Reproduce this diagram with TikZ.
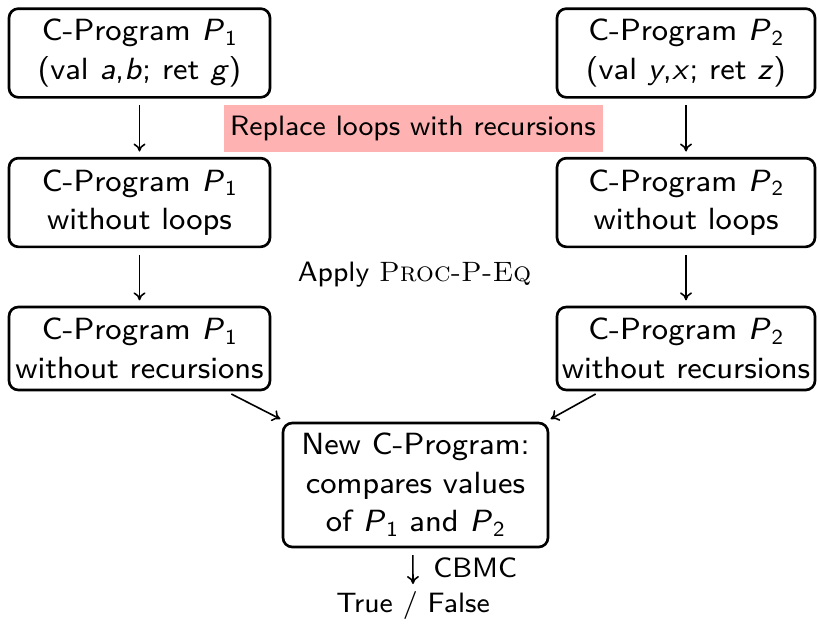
\documentclass[tikz,border=0pt]{standalone}
\usepackage{fontspec}
\setsansfont{lmsans8-regular.otf}[ItalicFont=lmsans8-oblique.otf]
\usetikzlibrary{arrows.meta}
\newcommand\mi[1]{\textit{#1}}
\newcommand\Pn[1]{\textit{P}\kern0.5pt\textsubscript{#1}}
\begin{document}
\begin{tikzpicture}[x=0.75pt,y=-0.75pt,
  font=\fontsize{23}{29}\selectfont\sffamily,
  lbl/.style={font=\fontsize{21}{26}\selectfont\sffamily, inner sep=0pt},
  box/.style={draw, line width=2pt, rounded corners=7pt, align=center,
    inner sep=0pt, minimum height=66.5pt},
  lbox/.style={box, minimum width=195.75pt},
  rbox/.style={box, minimum width=193.5pt},
  arr/.style={-{To[length=6pt,width=9pt]}, line width=1.2pt}]
\useasboundingbox (0,0) rectangle (817,625);

\node[lbox] (a1) at (139.5,53) {C-Program \Pn{1}\\(val \mi{a},\mi{b}; ret \mi{g})};
\node[rbox] (b1) at (686,53) {C-Program \Pn{2}\\(val \mi{y},\mi{x}; ret \mi{z})};
\node[lbox] (a2) at (139.5,202.5) {C-Program \Pn{1}\\without loops};
\node[rbox] (b2) at (686,202.5) {C-Program \Pn{2}\\without loops};
\node[lbox, minimum height=62.25pt] (a3) at (139.5,348.5) {C-Program \Pn{1}\\without recursions};
\node[rbox, minimum height=62.25pt] (b3) at (686,348.5) {C-Program \Pn{2}\\without recursions};
\node[box, minimum width=198.75pt, minimum height=93pt] (d) at (415.5,485)
  {New C-Program:\\compares values\\of \Pn{1} and \Pn{2}};

\node[lbl, fill=red!30, minimum width=284.25pt, minimum height=35.25pt]
  (rep) at (413,128.5) {Replace loops with recursions};
\node[lbl] (app) at (414.5,275) {Apply \textrm{\textsc{Proc-P-Eq}}};

\node[lbl] (tf) at (413,605) {True / False};
\coordinate (cb) at (413,584);
\node[lbl, anchor=west] (cbmc) at (433,568) {CBMC};

\draw[arr, shorten <=5pt, shorten >=4pt] (a1) -- (a2);
\draw[arr, shorten <=5pt, shorten >=4pt] (b1) -- (b2);
\draw[arr, shorten <=5pt, shorten >=4pt] (a2) -- (a3);
\draw[arr, shorten <=5pt, shorten >=4pt] (b2) -- (b3);
\draw[arr] ([shift={(-30pt,-2pt)}]a3.south east) -- ([shift={(-1pt,2pt)}]d.north west);
\draw[arr] ([shift={(30pt,-2pt)}]b3.south west) -- ([shift={(1pt,2pt)}]d.north east);
\draw[arr] ([shift={(-2pt,-5pt)}]d.south) -- (cb);
\end{tikzpicture}
\end{document}
